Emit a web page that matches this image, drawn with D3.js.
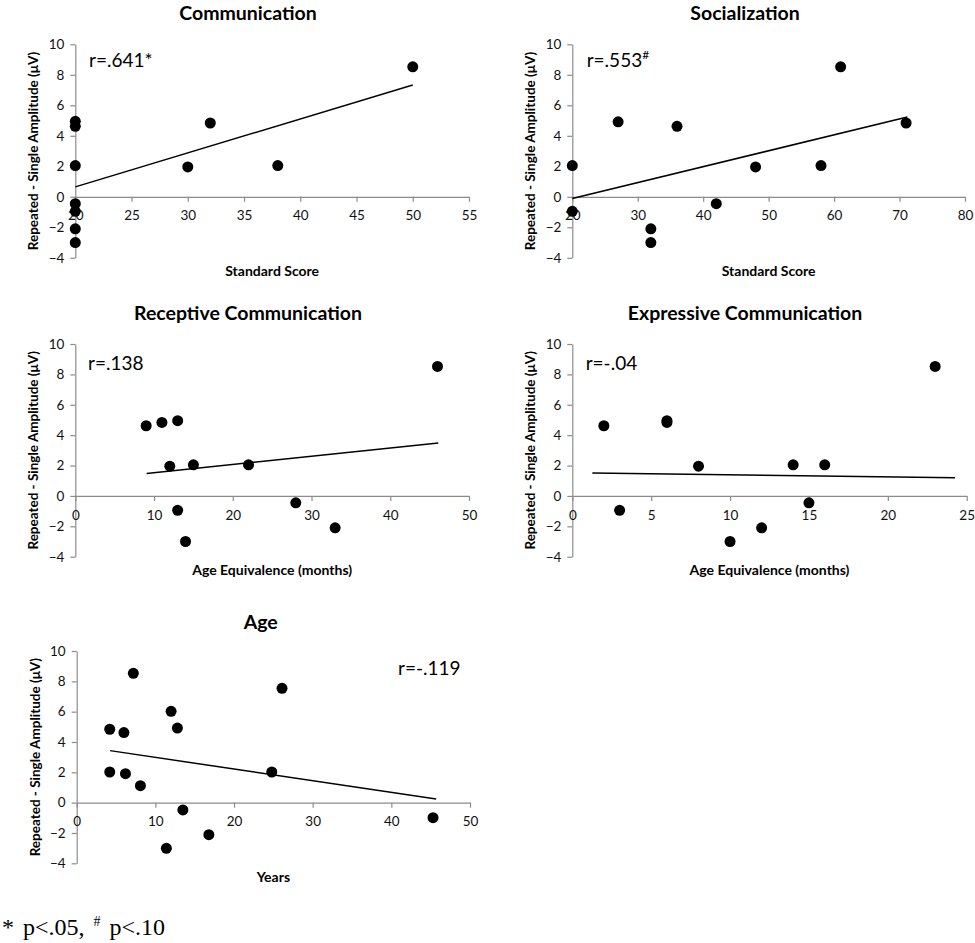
<!DOCTYPE html>
<html>
<head>
<meta charset="utf-8">
<script src="https://cdn.jsdelivr.net/npm/d3@7"></script>
<style>
  html, body { margin: 0; padding: 0; background: #fff; }
  svg { display: block; }
</style>
</head>
<body>
<svg id="chart" width="975" height="943"></svg>
<script>
// ---------- DATA ----------
const titles = ["Communication", "Socialization", "Receptive Communication", "Expressive Communication", "Age"];
const xLabels = ["Standard Score", "Standard Score", "Age Equivalence (months)", "Age Equivalence (months)", "Years"];
const yLabel = "Repeated - Single Amplitude (\u03BCV)";
const rLabels = ["r=.641*", "r=.553", "r=.138", "r=-.04", "r=-.119"];
const rSup = ["", "#", "", "", ""];

const commX = [20, 20, 20, 20, 20, 20, 20, 30, 32, 38, 50];
const commY = [4.95, 4.62, 2.05, -0.45, -0.95, -2.1, -3.0, 1.96, 4.84, 2.05, 8.52];
const socX = [20, 20, 27, 32, 32, 36, 42, 48, 58, 61, 71];
const socY = [2.05, -0.95, 4.92, -2.1, -3.0, 4.62, -0.45, 1.96, 2.05, 8.52, 4.84];
const recX = [9, 11, 13, 12, 15, 22, 13, 14, 28, 33, 46];
const recY = [4.62, 4.84, 4.95, 1.96, 2.05, 2.05, -0.95, -3.0, -0.45, -2.1, 8.52];
const expX = [2, 3, 6, 6, 8, 10, 12, 14, 15, 16, 23];
const expY = [4.62, -0.95, 4.84, 4.95, 1.96, -3.0, -2.1, 2.05, -0.45, 2.05, 8.52];
const ageX = [4.2, 4.2, 6.0, 6.2, 7.2, 8.1, 12.0, 12.8, 13.5, 11.4, 16.8, 24.8, 26.1, 45.3];
const ageY = [4.84, 2.02, 4.62, 1.91, 8.53, 1.12, 6.02, 4.92, -0.48, -3.01, -2.11, 2.02, 7.54, -0.99];

// trend line endpoints [x1, y1, x2, y2]
const commTrend = [20, 0.65, 50, 7.33];
const socTrend = [20, -0.11, 71.2, 5.23];
const recTrend = [9.06, 1.48, 46.1, 3.49];
const expTrend = [1.27, 1.51, 24.26, 1.2];
const ageTrend = [4.24, 3.43, 45.7, 0.24];

const commXTicks = [20, 25, 30, 35, 40, 45, 50, 55];
const socXTicks = [20, 30, 40, 50, 60, 70, 80];
const recXTicks = [0, 10, 20, 30, 40, 50];
const expXTicks = [0, 5, 10, 15, 20, 25];
const ageXTicks = [0, 10, 20, 30, 40, 50];
const yTicks = [-4, -2, 0, 2, 4, 6, 8, 10];

const footnote = ["* p<.05, ", "#", " p<.10"];

// ---------- LAYOUT ----------
const panels = [
  { xs: commX, ys: commY, trend: commTrend, xt: commXTicks, L: 75.3, R: 469, T: 44.3, B: 257.8, titleX: 248, titleY: 12, rX: 89, rY: 67, rAnchor: "start" },
  { xs: socX, ys: socY, trend: socTrend, xt: socXTicks, L: 572.3, R: 965, T: 44.3, B: 257.8, titleX: 745, titleY: 12, rX: 586.7, rY: 67, rAnchor: "start" },
  { xs: recX, ys: recY, trend: recTrend, xt: recXTicks, L: 75.3, R: 469, T: 344, B: 556.7, titleX: 248, titleY: 312, rX: 88, rY: 369.5, rAnchor: "start" },
  { xs: expX, ys: expY, trend: expTrend, xt: expXTicks, L: 572.3, R: 966.7, T: 344, B: 556.7, titleX: 745, titleY: 312, rX: 585.7, rY: 369.5, rAnchor: "start" },
  { xs: ageX, ys: ageY, trend: ageTrend, xt: ageXTicks, L: 76.7, R: 470, T: 651, B: 863.3, titleX: 260.7, titleY: 621.7, rX: 398, rY: 675, rAnchor: "start" }
];

const FONT = "Lato, 'Open Sans', sans-serif";
const svg = d3.select("#chart");
const AXIS = "#8c8c8c";

panels.forEach((p, i) => {
  const x = d3.scaleLinear().domain(d3.extent(p.xt)).range([p.L, p.R]);
  const y = d3.scaleLinear().domain(d3.extent(yTicks)).range([p.B, p.T]);
  const g = svg.append("g");

  // title
  g.append("text").attr("x", p.titleX).attr("y", p.titleY)
    .attr("text-anchor", "middle").attr("dominant-baseline", "central")
    .style("font-family", FONT).style("font-weight", "bold").style("font-size", "19.5px")
    .text(titles[i]);

  // y axis
  const ya = g.append("g").attr("transform", `translate(${p.L},0)`)
    .call(d3.axisLeft(y).tickValues(yTicks).tickSize(5).tickPadding(6).tickSizeOuter(0));
  ya.select(".domain").attr("stroke", AXIS).attr("stroke-width", 1.2);
  ya.selectAll(".tick line").attr("stroke", AXIS).attr("stroke-width", 1.2);
  ya.selectAll(".tick text").style("font-family", FONT).style("font-size", "13.5px").attr("fill", "#111");

  // x axis at y=0
  const xa = g.append("g").attr("transform", `translate(0,${y(0)})`)
    .call(d3.axisBottom(x).tickValues(p.xt).tickSize(5).tickPadding(9).tickSizeOuter(0));
  xa.select(".domain").attr("stroke", AXIS).attr("stroke-width", 1.2);
  xa.selectAll(".tick line").attr("stroke", AXIS).attr("stroke-width", 1.2);
  xa.selectAll(".tick text").style("font-family", FONT).style("font-size", "13.5px").attr("fill", "#111");

  // y label
  g.append("text")
    .attr("transform", `translate(${p.L - 42},${(p.T + p.B) / 2}) rotate(-90)`)
    .attr("text-anchor", "middle").attr("dominant-baseline", "central")
    .style("font-family", FONT).style("font-weight", "bold").style("font-size", "13.5px")
    .text(yLabel);

  // x label
  g.append("text").attr("x", (p.L + p.R) / 2).attr("y", p.B + 13)
    .attr("text-anchor", "middle").attr("dominant-baseline", "central")
    .style("font-family", FONT).style("font-weight", "bold").style("font-size", "14px")
    .text(xLabels[i]);

  // trend line
  g.append("line")
    .attr("x1", x(p.trend[0])).attr("y1", y(p.trend[1]))
    .attr("x2", x(p.trend[2])).attr("y2", y(p.trend[3]))
    .attr("stroke", "#000").attr("stroke-width", 1.5);

  // points
  g.selectAll("circle.pt").data(d3.range(p.xs.length)).join("circle")
    .attr("class", "pt")
    .attr("cx", k => x(p.xs[k])).attr("cy", k => y(p.ys[k]))
    .attr("r", 5.5).attr("fill", "#000");

  // r label
  const rt = g.append("text").attr("x", p.rX).attr("y", p.rY)
    .attr("text-anchor", p.rAnchor)
    .style("font-family", FONT).style("font-size", "19px").attr("fill", "#000")
    .text(rLabels[i]);
  if (rSup[i]) {
    rt.append("tspan").attr("dy", -8).style("font-size", "12px").text(rSup[i]);
  }
});

// footnote
const fn = svg.append("text").attr("x", 2).attr("y", 935)
  .style("font-family", "'Liberation Serif', 'Times New Roman', serif").style("font-size", "24px")
  .style("word-spacing", "3px");
fn.append("tspan").text(footnote[0]);
fn.append("tspan").attr("dy", -9).style("font-size", "14px").text(footnote[1]);
fn.append("tspan").attr("dy", 9).text(footnote[2]);
</script>
</body>
</html>
